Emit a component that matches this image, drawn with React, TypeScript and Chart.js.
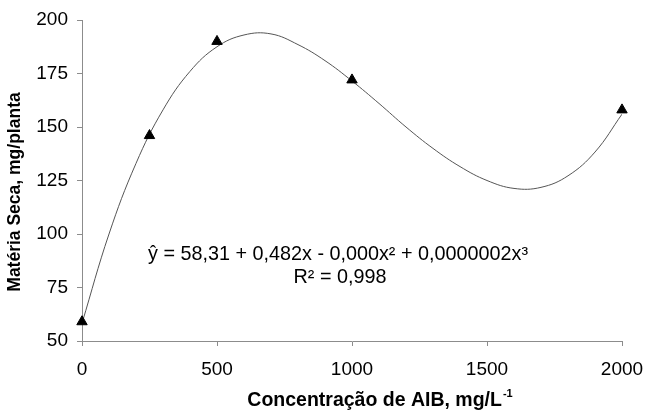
import React, { useEffect, useRef } from "react";
import { Chart, registerables } from "chart.js";

Chart.register(...registerables);

// Observed points
const concentrations = [0, 250, 500, 1000, 2000];
const dryMatter = [59, 146, 190, 172, 158];

// Fitted cubic curve
const curveX = [0, 100, 200, 300, 400, 500, 600, 700, 800, 900, 1000, 1100, 1200, 1300, 1400, 1500, 1600, 1700, 1800, 1900, 2000];
const curveY = [58.3, 100, 133, 158, 176, 187.5, 193, 193.5, 188.5, 181, 171.5, 161, 150, 140, 131.5, 125, 121.3, 121.8, 127.2, 138.3, 156];

// Ticks
const xTicks = [0, 500, 1000, 1500, 2000];
const yTicks = [50, 75, 100, 125, 150, 175, 200];

// Texts
const yTitle = "Matéria Seca, mg/planta";
const xTitleMain = "Concentração de AIB, mg/L";
const xTitleSup = "-1";
const equationLine1 = "ŷ = 58,31 + 0,482x - 0,000x² + 0,0000002x³";
const equationLine2 = "R² = 0,998";

const FONT = "'Liberation Sans', Arial, sans-serif";
const AXIS_COLOR = "#8c8c8c";

const textPlugin = {
  id: "texts",
  afterDraw(chart: any) {
    const ctx = chart.ctx as CanvasRenderingContext2D;
    ctx.save();
    ctx.fillStyle = "#000";
    // Y title
    ctx.save();
    ctx.translate(15, 192);
    ctx.rotate(-Math.PI / 2);
    ctx.font = `bold 17.5px ${FONT}`;
    ctx.textAlign = "center";
    ctx.textBaseline = "middle";
    ctx.fillText(yTitle, 0, 0);
    ctx.restore();

    // X title with superscript
    ctx.font = `bold 19.5px ${FONT}`;
    const wMain = ctx.measureText(xTitleMain).width;
    ctx.font = `bold 11px ${FONT}`;
    const wSup = ctx.measureText(xTitleSup).width;
    const total = wMain + 1 + wSup;
    const startX = 380 - total / 2;
    ctx.textAlign = "left";
    ctx.textBaseline = "alphabetic";
    ctx.font = `bold 19.5px ${FONT}`;
    ctx.fillText(xTitleMain, startX, 406);
    ctx.font = `bold 11px ${FONT}`;
    ctx.fillText(xTitleSup, startX + wMain + 1, 397);

    // Equation
    ctx.font = `19.8px ${FONT}`;
    ctx.textAlign = "center";
    ctx.textBaseline = "middle";
    ctx.fillText(equationLine1, 338, 255);
    ctx.fillText(equationLine2, 340, 278);
    ctx.restore();
  },
};

export default function App() {
  const ref = useRef<HTMLCanvasElement>(null);

  useEffect(() => {
    document.body.style.margin = "0";
    if (!ref.current) return;
    const chart = new Chart(ref.current, {
      type: "scatter",
      data: {
        datasets: [
          {
            label: "Observado",
            data: concentrations.map((x, i) => ({ x, y: dryMatter[i] })),
            pointStyle: "triangle",
            pointRadius: 6,
            pointHoverRadius: 6,
            backgroundColor: "#000",
            borderColor: "#000",
            borderWidth: 1,
            showLine: false,
            clip: false,
            order: 0,
          },
          {
            label: "Ajuste",
            data: curveX.map((x, i) => ({ x, y: curveY[i] })),
            showLine: true,
            tension: 0.4,
            pointRadius: 0,
            borderColor: "#555",
            borderWidth: 1,
            fill: false,
            order: 1,
          },
        ],
      },
      options: {
        responsive: false,
        animation: false,
        events: [],
        layout: { padding: { top: 20, right: 24, left: 0, bottom: 0 } },
        plugins: {
          legend: { display: false },
          tooltip: { enabled: false },
        },
        scales: {
          x: {
            type: "linear",
            min: 0,
            max: 2000,
            afterBuildTicks: (s: any) => {
              s.ticks = xTicks.map((v) => ({ value: v }));
            },
            ticks: {
              color: "#000",
              font: { family: FONT, size: 19 },
              padding: 12,
              callback: (v: any) => String(v),
            },
            grid: { drawOnChartArea: false, drawTicks: true, tickLength: 5, color: AXIS_COLOR },
            border: { display: true, color: AXIS_COLOR },
            afterFit: (s: any) => {
              s.height = 71;
              s.paddingLeft = 0;
              s.paddingRight = 0;
            },
          },
          y: {
            type: "linear",
            min: 50,
            max: 200,
            afterBuildTicks: (s: any) => {
              s.ticks = yTicks.map((v) => ({ value: v }));
            },
            ticks: {
              color: "#000",
              font: { family: FONT, size: 19 },
              padding: 9,
              callback: (v: any) => String(v),
            },
            grid: { drawOnChartArea: false, drawTicks: true, tickLength: 5, color: AXIS_COLOR },
            border: { display: true, color: AXIS_COLOR },
            afterFit: (s: any) => {
              s.width = 82;
              s.paddingTop = 0;
              s.paddingBottom = 0;
            },
          },
        },
      },
      plugins: [textPlugin],
    });
    return () => chart.destroy();
  }, []);

  return (
    <div style={{ width: 646, height: 412, background: "#fff" }}>
      <canvas ref={ref} width={646} height={412} style={{ display: "block" }} />
    </div>
  );
}
